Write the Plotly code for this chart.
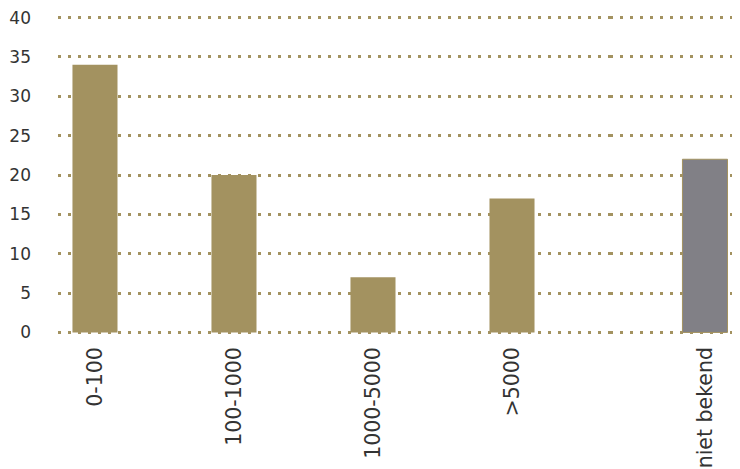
import plotly.graph_objects as go

categories_main = ["0-100", "100-1000", "1000-5000", ">5000"]
values_main = [34, 20, 7, 17]
categories_extra = ["niet bekend"]
values_extra = [22]
y_ticks = [0, 5, 10, 15, 20, 25, 30, 35, 40]

OLIVE = "#A39260"
GRAY = "#818086"
TEXT = "#333333"

fig = go.Figure()
fig.add_trace(go.Bar(x=categories_main, y=values_main, marker=dict(color=OLIVE, line=dict(width=0)),
                     xaxis="x", yaxis="y", showlegend=False))
fig.add_trace(go.Bar(x=categories_extra, y=values_extra, marker=dict(color=GRAY, line=dict(color=OLIVE, width=1)),
                     xaxis="x2", yaxis="y2", showlegend=False))

# page body has an 8px margin; compensate so the plot lands where the reference has it
split = (610 - 58) / 682
grid = dict(range=[-0.2, 40.2], tickvals=y_ticks, showgrid=True, gridcolor=OLIVE, gridwidth=3,
            griddash="3px,7px", zeroline=False, showline=False, ticks="", automargin=False)
xcommon = dict(type="category", tickangle=-90, showgrid=False, zeroline=False, showline=False, ticks="",
               tickfont=dict(family="DejaVu Sans", size=20.5, color=TEXT), ticklabelstandoff=8,
               automargin=False)

fig.update_layout(
    width=732, height=461,
    margin=dict(l=50, r=0, t=8, b=135),
    paper_bgcolor="white", plot_bgcolor="white",
    bargap=0.676,
    font=dict(family="DejaVu Sans", color=TEXT),
    xaxis=dict(domain=[0, split], range=[-0.266, 3.705], anchor="y", **xcommon),
    xaxis2=dict(domain=[split, 1], range=[-0.683, 0.252], anchor="y2", **xcommon),
    yaxis=dict(anchor="x", tickfont=dict(family="DejaVu Sans", size=17, color=TEXT),
               ticklabelstandoff=26, ticklabeloverflow="allow", **grid),
    yaxis2=dict(anchor="x2", matches="y", showticklabels=False, **grid),
)

fig.write_html("out.html")
